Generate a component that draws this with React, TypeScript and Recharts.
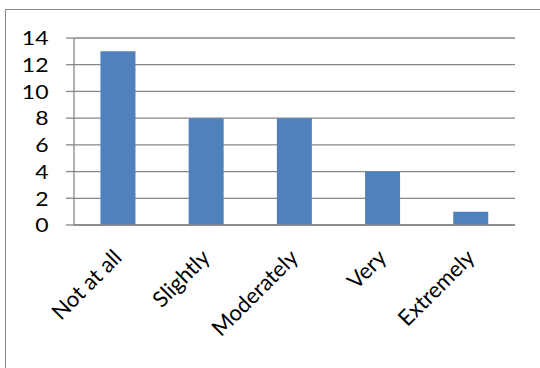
import { Bar, BarChart, CartesianGrid, XAxis, YAxis } from "recharts";

const categories = ["Not at all", "Slightly", "Moderately", "Very", "Extremely"];
const counts = [13, 8, 8, 4, 1];
const yTicks = [0, 2, 4, 6, 8, 10, 12, 14];
const edgeTicks = [0, 1, 2, 3, 4, 5];

const data = categories.map((name, i) => ({ name, count: counts[i], edge: i }));

const FONT = "Lato, 'Open Sans', sans-serif";
const GRAY = "#878787";

function YTick({ x, y, payload }: any) {
  return (
    <text
      transform={`translate(${x},${y}) scale(1.18,1)`}
      textAnchor="end"
      dominantBaseline="central"
      fontFamily={FONT}
      fontSize={19.5}
      fill="#000"
    >
      {payload.value}
    </text>
  );
}

function XTick({ x, y, payload }: any) {
  return (
    <text
      transform={`translate(${x + 5},${y + 34}) rotate(-45)`}
      textAnchor="end"
      fontFamily={FONT}
      fontSize={22}
      fill="#000"
    >
      {payload.value}
    </text>
  );
}

export default function App() {
  return (
    <div style={{ position: "absolute", left: 0, top: 0, width: 540, height: 368, overflow: "hidden", background: "#fff" }}>
      <div
        style={{
          position: "absolute",
          left: 5,
          top: 9,
          width: 600,
          height: 400,
          borderLeft: `1.5px solid ${GRAY}`,
          borderTop: `1.5px solid ${GRAY}`,
        }}
      />
      <div style={{ position: "absolute", left: 0, top: 0 }}>
        <BarChart
          width={540}
          height={368}
          data={data}
          margin={{ top: 38, right: 25, bottom: 0, left: 0 }}
          barCategoryGap="30%"
        >
          <CartesianGrid vertical={false} stroke={GRAY} strokeWidth={1.3} xAxisId="edges" />
          <XAxis
            xAxisId="edges"
            type="number"
            dataKey="edge"
            domain={[0, 5]}
            ticks={edgeTicks}
            allowDataOverflow
            height={0}
            axisLine={false}
            tickSize={7}
            tickLine={{ stroke: GRAY, strokeWidth: 1.3 }}
            tick={() => <g />}
          />
          <XAxis
            xAxisId="cat"
            dataKey="name"
            height={143}
            interval={0}
            axisLine={{ stroke: GRAY, strokeWidth: 1.3 }}
            tickLine={false}
            tickSize={0}
            tickMargin={0}
            tick={<XTick />}
          />
          <YAxis
            domain={[0, 14]}
            ticks={yTicks}
            width={74}
            interval={0}
            axisLine={{ stroke: GRAY, strokeWidth: 1.3 }}
            tickLine={{ stroke: GRAY, strokeWidth: 1.3 }}
            tickSize={8}
            tickMargin={17.5}
            tick={<YTick />}
          />
          <Bar dataKey="count" xAxisId="cat" fill="#4F81BD" isAnimationActive={false} />
        </BarChart>
      </div>
    </div>
  );
}
